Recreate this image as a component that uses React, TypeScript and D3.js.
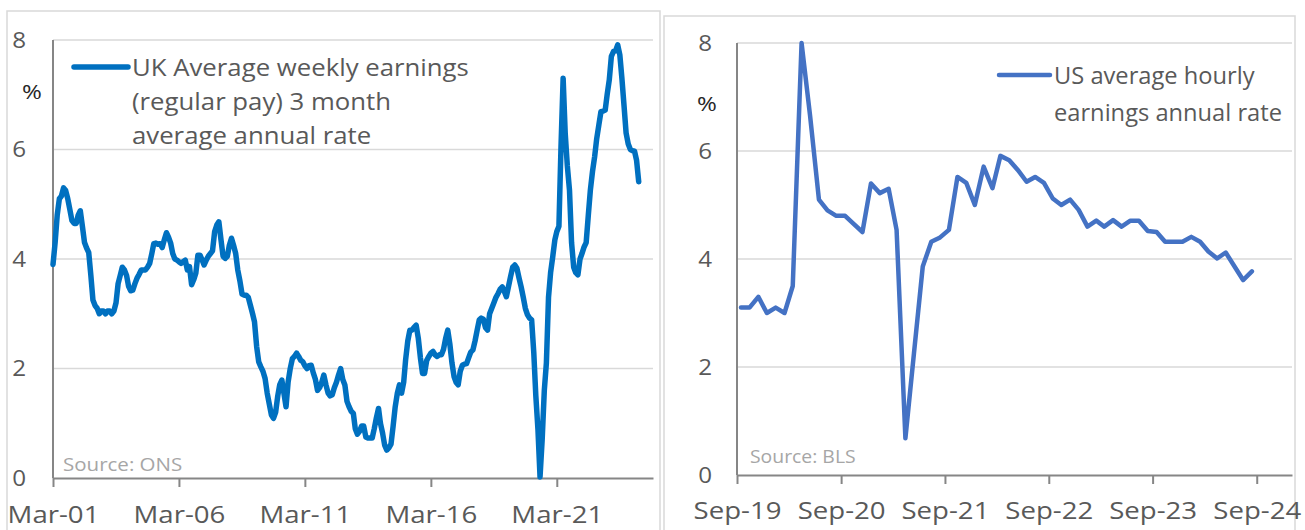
import { useEffect, useRef } from 'react';
import * as d3 from 'd3';

// UK average weekly earnings (regular pay), 3 month average annual rate, monthly from Mar-01
const ukStart = new Date(2001, 2, 1);
const ukValues = [
  3.9, 4.3, 4.8, 5.1, 5.15, 5.3, 5.25, 5.1, 4.9, 4.7,
  4.65, 4.65, 4.8, 4.88, 4.6, 4.3, 4.2, 4.12, 3.7, 3.25, 3.15, 3.1,
  3.0, 3.05, 3.05, 3.0, 3.05, 3.05, 3.0, 3.05, 3.2, 3.55, 3.7, 3.85,
  3.8, 3.7, 3.5, 3.42, 3.43, 3.55, 3.65, 3.72, 3.8, 3.8, 3.8, 3.85,
  3.92, 4.1, 4.28, 4.29, 4.27, 4.28, 4.21, 4.35, 4.48, 4.4, 4.29, 4.1,
  4.0, 3.98, 3.95, 3.92, 3.95, 3.98, 3.8, 3.86, 3.53, 3.62, 3.74, 4.07,
  4.07, 3.98, 3.89, 3.98, 4.05, 4.1, 4.15, 4.5, 4.62, 4.68, 4.35, 4.05,
  4.01, 4.05, 4.25, 4.38, 4.25, 4.1, 3.8, 3.6, 3.36, 3.34, 3.34, 3.3,
  3.15, 3.0, 2.85, 2.4, 2.12, 2.03, 1.95, 1.82, 1.55, 1.35, 1.15, 1.09,
  1.2, 1.5, 1.7, 1.79, 1.55, 1.3, 1.75, 2.0, 2.18, 2.22, 2.28, 2.22,
  2.15, 2.12, 2.05, 2.0, 2.05, 2.06, 1.92, 1.8, 1.6, 1.65, 1.75, 1.88,
  1.7, 1.55, 1.5, 1.52, 1.65, 1.75, 1.88, 2.0, 1.8, 1.7, 1.4, 1.3,
  1.22, 1.18, 0.9, 0.8, 0.85, 0.95, 0.95, 0.75, 0.73, 0.73, 0.73, 0.9,
  1.1, 1.27, 1.0, 0.82, 0.6, 0.51, 0.55, 0.62, 0.95, 1.3, 1.55, 1.7,
  1.55, 1.75, 2.16, 2.5, 2.7, 2.7, 2.75, 2.79, 2.55, 2.2, 1.91, 1.91,
  2.15, 2.22, 2.28, 2.31, 2.25, 2.22, 2.25, 2.25, 2.35, 2.55, 2.7, 2.45,
  2.1, 1.85, 1.75, 1.7, 1.95, 2.06, 2.08, 2.09, 2.2, 2.3, 2.34, 2.5,
  2.7, 2.89, 2.92, 2.9, 2.75, 2.7, 3.0, 3.1, 3.2, 3.3, 3.37, 3.45,
  3.49, 3.4, 3.31, 3.5, 3.68, 3.85, 3.89, 3.83, 3.65, 3.49, 3.3, 3.1,
  2.98, 2.92, 2.89, 2.3, 1.5, 0.88, 0.02, 0.7, 1.6, 2.1, 3.3, 3.75,
  4.04, 4.35, 4.5, 4.6, 6.05, 7.3, 6.3, 5.7, 5.26, 4.3, 3.85, 3.75,
  3.71, 4.0, 4.1, 4.22, 4.3, 4.8, 5.26, 5.6, 5.87, 6.2, 6.45, 6.69,
  6.7, 6.72, 7.0, 7.27, 7.7, 7.79, 7.8, 7.91, 7.73, 7.3, 6.8, 6.3,
  6.1, 6.0, 5.98, 5.97, 5.8, 5.41
];

// US average hourly earnings annual rate, monthly from Sep-19
const usStart = new Date(2019, 8, 1);
const usValues = [
  3.1, 3.1, 3.3, 3.0, 3.1, 3.0, 3.5, 8.0, 6.65, 5.1, 4.9, 4.8,
  4.8, 4.65, 4.5, 5.4, 5.22, 5.3, 4.54, 0.68, 2.25, 3.86, 4.32, 4.4,
  4.54, 5.52, 5.41, 5.0, 5.71, 5.31, 5.91, 5.83, 5.65, 5.43, 5.52, 5.41,
  5.12, 5.0, 5.1, 4.91, 4.6, 4.71, 4.6, 4.72, 4.6, 4.71, 4.71, 4.52,
  4.5, 4.32, 4.32, 4.32, 4.41, 4.32, 4.14, 4.01, 4.12, 3.86, 3.61, 3.77
];

const yTicks = [0, 2, 4, 6, 8];
const ukTickDates = ['2001-03', '2006-03', '2011-03', '2016-03', '2021-03'];
const usTickDates = ['2019-09', '2020-09', '2021-09', '2022-09', '2023-09', '2024-09'];
const ukLegend = ['UK Average weekly earnings', '(regular pay) 3 month', 'average annual rate'];
const usLegend = ['US average hourly', 'earnings annual rate'];

const FONT = "'Open Sans', sans-serif";
const parseMonth = d3.timeParse('%Y-%m');
const fmt = d3.timeFormat('%b-%y');

const drawPanel = (svg, cfg) => {
  const { box, x, y, data, color, width, ticks, legend, source } = cfg;

  svg.append('rect')
    .attr('x', box[0]).attr('y', box[1])
    .attr('width', box[2]).attr('height', box[3])
    .attr('fill', '#fff').attr('stroke', '#d9d9d9').attr('stroke-width', 1.5);

  const [x0, x1] = x.range();
  const [y0] = y.range();

  // gridlines
  svg.append('g')
    .selectAll('line')
    .data(yTicks.filter(d => d > 0))
    .join('line')
    .attr('x1', x0).attr('x2', x1)
    .attr('y1', d => y(d)).attr('y2', d => y(d))
    .attr('stroke', '#d9d9d9').attr('stroke-width', 1.5);

  // y labels (text is a little stretched sideways in the original)
  svg.append('g')
    .selectAll('text')
    .data(yTicks)
    .join('text')
    .attr('transform', d => `translate(${cfg.yLabelX}, ${y(d)}) scale(1.1, 1)`)
    .attr('dy', '0.36em')
    .attr('text-anchor', 'end')
    .attr('font-family', FONT).attr('font-size', 22)
    .attr('fill', '#595959')
    .text(d => d);

  svg.append('text')
    .attr('transform', `translate(${cfg.pctX}, ${cfg.pctY}) scale(1.2, 1)`)
    .attr('text-anchor', 'middle')
    .attr('font-family', FONT).attr('font-size', 20)
    .attr('fill', '#262626')
    .text('%');

  // x axis
  const xAxis = svg.append('g')
    .attr('transform', `translate(0, ${y0})`)
    .call(d3.axisBottom(x).tickValues(ticks).tickSize(9).tickSizeOuter(0).tickFormat(fmt));
  xAxis.select('.domain').attr('stroke', '#868686').attr('stroke-width', 2);
  xAxis.selectAll('.tick line').attr('stroke', '#868686').attr('stroke-width', 2);
  xAxis.selectAll('.tick text')
    .attr('font-family', FONT).attr('font-size', 23)
    .attr('fill', '#595959').attr('y', 0).attr('dy', 0)
    .attr('transform', `translate(0, ${cfg.xLabelDy}) scale(1.2, 1)`);

  // y axis line
  svg.append('line')
    .attr('x1', x0).attr('x2', x0)
    .attr('y1', y(8)).attr('y2', y0)
    .attr('stroke', '#868686').attr('stroke-width', 2);

  svg.append('text')
    .attr('transform', `translate(${source.x}, ${source.y}) scale(${source.sx}, 1)`)
    .attr('font-family', FONT).attr('font-size', 19)
    .attr('fill', '#a6a6a6')
    .text(source.text);

  const line = d3.line()
    .x(d => x(d.date))
    .y(d => y(d.value));

  svg.append('path')
    .datum(data)
    .attr('fill', 'none')
    .attr('stroke', color)
    .attr('stroke-width', width)
    .attr('stroke-linejoin', 'round')
    .attr('stroke-linecap', 'round')
    .attr('d', line);

  // legend
  svg.append('line')
    .attr('x1', legend.x1).attr('x2', legend.x2)
    .attr('y1', legend.y).attr('y2', legend.y)
    .attr('stroke', color).attr('stroke-width', width)
    .attr('stroke-linecap', 'round');

  svg.append('g')
    .selectAll('text')
    .data(legend.lines)
    .join('text')
    .attr('transform', (d, i) => `translate(${legend.tx}, ${legend.ty + i * legend.step}) scale(${legend.sx}, 1)`)
    .attr('font-family', FONT).attr('font-size', 23)
    .attr('fill', '#595959')
    .text(d => d);
};

const App = () => {
  const svgRef = useRef();

  useEffect(() => {
    const svg = d3.select(svgRef.current);
    svg.selectAll('*').remove();

    const ukData = ukValues.map((v, i) => ({ date: d3.timeMonth.offset(ukStart, i), value: v }));
    // US points sit mid-month, a little right of the month tick
    const usData = usValues.map((v, i) => ({ date: d3.timeDay.offset(d3.timeMonth.offset(usStart, i), 14), value: v }));

    const ukX = d3.scaleTime().domain([ukStart, new Date(2024, 11, 25)]).range([53, 653]);
    const ukY = d3.scaleLinear().domain([0, 8]).range([478, 40]);
    const usX = d3.scaleTime().domain([usStart, new Date(2025, 0, 3)]).range([737, 1292]);
    const usY = d3.scaleLinear().domain([0, 8]).range([475, 43]);

    drawPanel(svg, {
      box: [7, 11, 653, 540],
      x: ukX, y: ukY, data: ukData, color: '#0070c0', width: 5.5,
      ticks: ukTickDates.map(parseMonth),
      yLabelX: 26, pctX: 32, pctY: 99, xLabelDy: 45,
      source: { x: 63, y: 471, text: 'Source: ONS', sx: 1.08 },
      legend: { x1: 74, x2: 128, y: 67, tx: 132, ty: 76, step: 34, sx: 1.12, lines: ukLegend }
    });

    drawPanel(svg, {
      box: [664, 16, 631, 540],
      x: usX, y: usY, data: usData, color: '#4472c4', width: 4.5,
      ticks: usTickDates.map(parseMonth),
      yLabelX: 712, pctX: 707, pctY: 111, xLabelDy: 44,
      source: { x: 750, y: 463, text: 'Source: BLS', sx: 1.02 },
      legend: { x1: 999, x2: 1050, y: 75, tx: 1054, ty: 84, step: 37, sx: 1.03, lines: usLegend }
    });
  }, []);

  return (
    <svg ref={svgRef} width={1305} height={530}
      style={{ position: 'absolute', left: 0, top: 0, background: '#fff' }} />
  );
};

export default App;
